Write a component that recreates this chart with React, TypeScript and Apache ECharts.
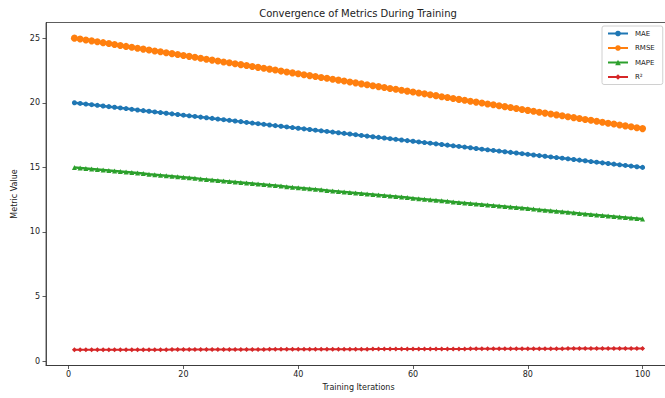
import React, { useEffect, useRef } from "react";
import * as echarts from "echarts";

const iterations = [
  1, 2, 3, 4, 5, 6, 7, 8, 9, 10, 11, 12, 13, 14, 15, 16, 17, 18, 19, 20,
  21, 22, 23, 24, 25, 26, 27, 28, 29, 30, 31, 32, 33, 34, 35, 36, 37, 38, 39, 40,
  41, 42, 43, 44, 45, 46, 47, 48, 49, 50, 51, 52, 53, 54, 55, 56, 57, 58, 59, 60,
  61, 62, 63, 64, 65, 66, 67, 68, 69, 70, 71, 72, 73, 74, 75, 76, 77, 78, 79, 80,
  81, 82, 83, 84, 85, 86, 87, 88, 89, 90, 91, 92, 93, 94, 95, 96, 97, 98, 99, 100,
];

const mae = [
  20.0, 19.95, 19.9, 19.85, 19.8, 19.75, 19.7, 19.65, 19.6, 19.55,
  19.49, 19.44, 19.39, 19.34, 19.29, 19.24, 19.19, 19.14, 19.09, 19.04,
  18.99, 18.94, 18.89, 18.84, 18.79, 18.74, 18.69, 18.64, 18.59, 18.54,
  18.48, 18.43, 18.38, 18.33, 18.28, 18.23, 18.18, 18.13, 18.08, 18.03,
  17.98, 17.93, 17.88, 17.83, 17.78, 17.73, 17.68, 17.63, 17.58, 17.53,
  17.47, 17.42, 17.37, 17.32, 17.27, 17.22, 17.17, 17.12, 17.07, 17.02,
  16.97, 16.92, 16.87, 16.82, 16.77, 16.72, 16.67, 16.62, 16.57, 16.52,
  16.46, 16.41, 16.36, 16.31, 16.26, 16.21, 16.16, 16.11, 16.06, 16.01,
  15.96, 15.91, 15.86, 15.81, 15.76, 15.71, 15.66, 15.61, 15.56, 15.51,
  15.45, 15.4, 15.35, 15.3, 15.25, 15.2, 15.15, 15.1, 15.05, 15.0,
];

const rmse = [
  25.0, 24.93, 24.86, 24.79, 24.72, 24.65, 24.58, 24.51, 24.43, 24.36,
  24.29, 24.22, 24.15, 24.08, 24.01, 23.94, 23.87, 23.8, 23.73, 23.66,
  23.59, 23.52, 23.44, 23.37, 23.3, 23.23, 23.16, 23.09, 23.02, 22.95,
  22.88, 22.81, 22.74, 22.67, 22.6, 22.53, 22.45, 22.38, 22.31, 22.24,
  22.17, 22.1, 22.03, 21.96, 21.89, 21.82, 21.75, 21.68, 21.61, 21.54,
  21.46, 21.39, 21.32, 21.25, 21.18, 21.11, 21.04, 20.97, 20.9, 20.83,
  20.76, 20.69, 20.62, 20.55, 20.47, 20.4, 20.33, 20.26, 20.19, 20.12,
  20.05, 19.98, 19.91, 19.84, 19.77, 19.7, 19.63, 19.56, 19.48, 19.41,
  19.34, 19.27, 19.2, 19.13, 19.06, 18.99, 18.92, 18.85, 18.78, 18.71,
  18.64, 18.57, 18.49, 18.42, 18.35, 18.28, 18.21, 18.14, 18.07, 18.0,
];

const mape = [
  15.0, 14.96, 14.92, 14.88, 14.84, 14.8, 14.76, 14.72, 14.68, 14.64,
  14.6, 14.56, 14.52, 14.47, 14.43, 14.39, 14.35, 14.31, 14.27, 14.23,
  14.19, 14.15, 14.11, 14.07, 14.03, 13.99, 13.95, 13.91, 13.87, 13.83,
  13.79, 13.75, 13.71, 13.67, 13.63, 13.59, 13.55, 13.51, 13.46, 13.42,
  13.38, 13.34, 13.3, 13.26, 13.22, 13.18, 13.14, 13.1, 13.06, 13.02,
  12.98, 12.94, 12.9, 12.86, 12.82, 12.78, 12.74, 12.7, 12.66, 12.62,
  12.58, 12.54, 12.49, 12.45, 12.41, 12.37, 12.33, 12.29, 12.25, 12.21,
  12.17, 12.13, 12.09, 12.05, 12.01, 11.97, 11.93, 11.89, 11.85, 11.81,
  11.77, 11.73, 11.69, 11.65, 11.61, 11.57, 11.53, 11.48, 11.44, 11.4,
  11.36, 11.32, 11.28, 11.24, 11.2, 11.16, 11.12, 11.08, 11.04, 11.0,
];

const r2 = [
  0.88, 0.881, 0.882, 0.883, 0.884, 0.886, 0.887, 0.888, 0.889, 0.89,
  0.891, 0.892, 0.893, 0.894, 0.896, 0.897, 0.898, 0.899, 0.9, 0.901,
  0.902, 0.903, 0.904, 0.906, 0.907, 0.908, 0.909, 0.91, 0.911, 0.912,
  0.913, 0.914, 0.916, 0.917, 0.918, 0.919, 0.92, 0.921, 0.922, 0.923,
  0.924, 0.926, 0.927, 0.928, 0.929, 0.93, 0.931, 0.932, 0.933, 0.934,
  0.936, 0.937, 0.938, 0.939, 0.94, 0.941, 0.942, 0.943, 0.944, 0.946,
  0.947, 0.948, 0.949, 0.95, 0.951, 0.952, 0.953, 0.954, 0.956, 0.957,
  0.958, 0.959, 0.96, 0.961, 0.962, 0.963, 0.964, 0.966, 0.967, 0.968,
  0.969, 0.97, 0.971, 0.972, 0.973, 0.974, 0.976, 0.977, 0.978, 0.979,
  0.98, 0.981, 0.982, 0.983, 0.984, 0.986, 0.987, 0.988, 0.989, 0.99,
];

const xTicks = [0, 20, 40, 60, 80, 100];
const yTicks = [0, 5, 10, 15, 20, 25];
const seriesNames = ["MAE", "RMSE", "MAPE", "R²"];

const FONT = "DejaVu Sans";

export default function App() {
  const ref = useRef<HTMLDivElement>(null);

  useEffect(() => {
    if (!ref.current) return;
    const chart = echarts.init(ref.current, undefined, { renderer: "svg" });

    const pair = (ys: number[]) => iterations.map((x, i) => [x, ys[i]]);

    const mk = (
      name: string,
      ys: number[],
      color: string,
      symbol: string,
      symbolSize: number,
      lineWidth: number
    ) => ({
      name,
      type: "line",
      data: pair(ys),
      symbol,
      symbolSize,
      showSymbol: true,
      lineStyle: { color, width: lineWidth },
      itemStyle: { color, borderColor: color, borderWidth: 0 },
      z: 3,
    });

    chart.setOption({
      animation: false,
      backgroundColor: "#ffffff",
      textStyle: { fontFamily: FONT },
      graphic: [
        {
          type: "text",
          x: 358,
          y: 13,
          style: {
            text: "Convergence of Metrics During Training",
            fontFamily: FONT,
            fontSize: 10,
            fill: "#222",
            textAlign: "center",
            textVerticalAlign: "middle",
          },
        },
      ],
      legend: {
        data: seriesNames,
        orient: "vertical",
        left: 602,
        top: 26,
        itemWidth: 20,
        itemHeight: 7,
        itemGap: 7.5,
        padding: [4, 8, 4, 5],
        borderColor: "#d0d0d0",
        borderWidth: 1,
        borderRadius: 2,
        backgroundColor: "rgba(255,255,255,0.85)",
        textStyle: { fontFamily: FONT, fontSize: 7, color: "#222", padding: [0, 0, 0, 2] },
      },
      grid: {
        left: 46,
        top: 22.5,
        width: 625,
        height: 343,
        outerBoundsMode: "none",
        containLabel: false,
        show: true,
        borderColor: "#333",
        borderWidth: 0.8,
        backgroundColor: "transparent",
      },
      xAxis: {
        type: "value",
        min: -3.95,
        max: 104.95,
        name: "Training Iterations",
        nameLocation: "middle",
        nameGap: 17,
        nameTextStyle: { fontFamily: FONT, fontSize: 8, color: "#222" },
        axisLine: { show: true, onZero: false, lineStyle: { color: "#333", width: 0.8 } },
        axisTick: {
          show: true,
          length: 3.5,
          lineStyle: { color: "#333", width: 0.8 },
          customValues: xTicks,
        },
        axisLabel: {
          fontFamily: FONT,
          fontSize: 8,
          color: "#222",
          margin: 5,
          customValues: xTicks,
        },
        splitLine: { show: false },
      },
      yAxis: {
        type: "value",
        min: -0.33,
        max: 26.21,
        name: "Metric Value",
        nameLocation: "middle",
        nameGap: 24,
        nameTextStyle: { fontFamily: FONT, fontSize: 8, color: "#222" },
        axisLine: { show: true, onZero: false, lineStyle: { color: "#333", width: 0.8 } },
        axisTick: {
          show: true,
          length: 3.5,
          lineStyle: { color: "#333", width: 0.8 },
          customValues: yTicks,
        },
        axisLabel: {
          fontFamily: FONT,
          fontSize: 8,
          color: "#222",
          margin: 6,
          customValues: yTicks,
        },
        splitLine: { show: false },
      },
      series: [
        mk(seriesNames[0], mae, "#1f77b4", "circle", 5, 2.5),
        mk(seriesNames[1], rmse, "#ff7f0e", "circle", 7, 3),
        mk(seriesNames[2], mape, "#2ca02c", "triangle", 5, 2.5),
        mk(seriesNames[3], r2, "#d62728", "diamond", 5, 2),
      ],
    });

    return () => chart.dispose();
  }, []);

  return (
    <div
      ref={ref}
      style={{ position: "absolute", left: 0, top: 0, width: 665, height: 398 }}
    />
  );
}
